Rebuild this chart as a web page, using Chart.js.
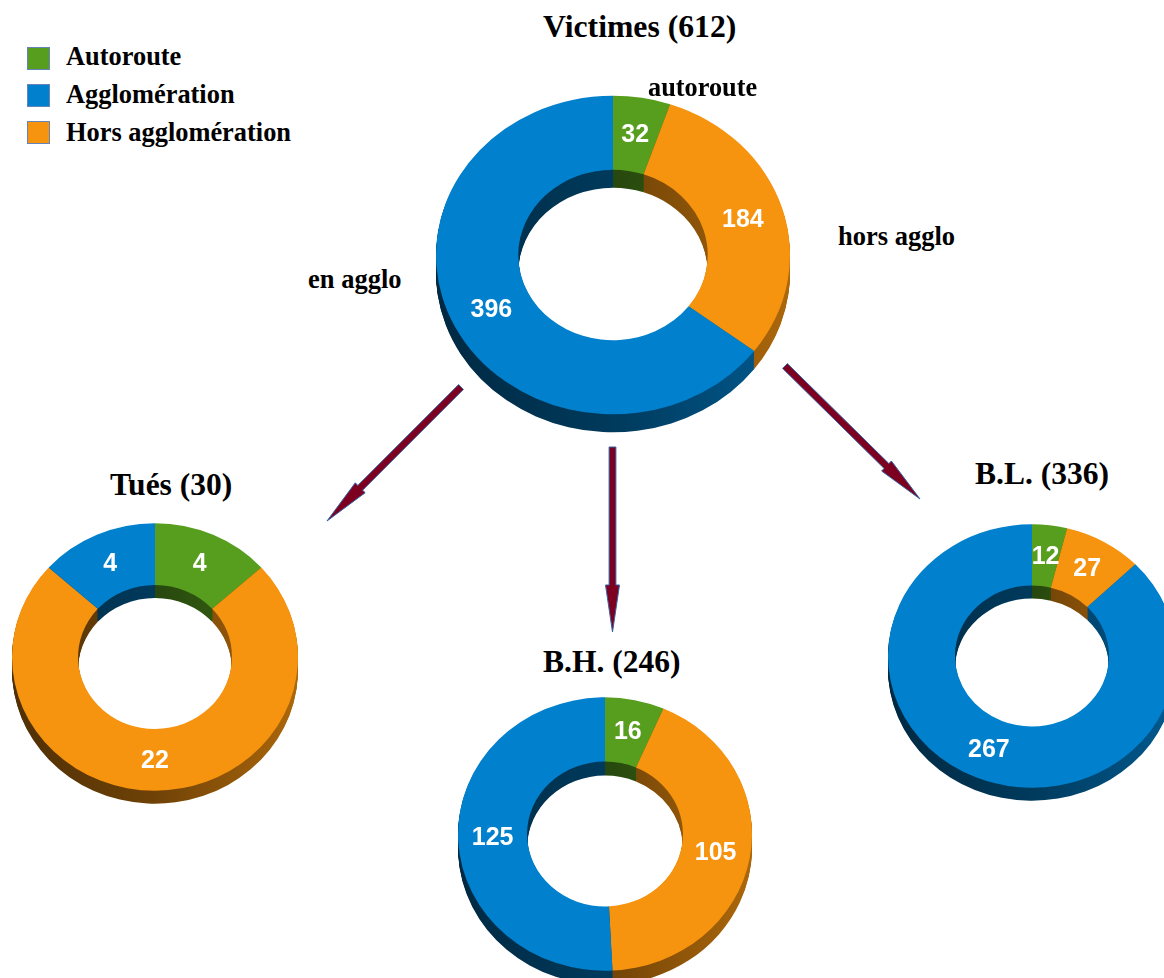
<!DOCTYPE html>
<html><head><meta charset="utf-8">
<script src="https://cdn.jsdelivr.net/npm/chart.js@4.4.1/dist/chart.umd.min.js"></script>
<style>
html,body{margin:0;padding:0;background:#fff;width:1164px;height:978px;overflow:hidden;}
#stage{position:relative;width:1164px;height:978px;overflow:hidden;background:#fff;}
canvas.pie{position:absolute;z-index:2;}
.t{position:absolute;white-space:nowrap;font-family:'Liberation Serif','Times New Roman',serif;font-weight:bold;color:#000;z-index:5;}
svg.arrows{position:absolute;left:0;top:0;z-index:1;}
.sw{position:absolute;width:23px;height:23px;box-sizing:border-box;border:1px solid #6584b8;z-index:5;}
</style></head>
<body><div id="stage"></div>
<script>
// ---- data ----
const categories = ['Autoroute', 'Hors agglomération', 'Agglomération'];
const legendLabels = ['Autoroute', 'Agglomération', 'Hors agglomération'];
const chartTitles = ['Victimes (612)', 'Tués (30)', 'B.H. (246)', 'B.L. (336)'];
const victimesValues = [32, 184, 396];
const tuesValues = [4, 22, 4];
const bhValues = [16, 105, 125];
const blValues = [12, 27, 267];
const sliceNotes = ['autoroute', 'hors agglo', 'en agglo'];

// ---- styles / layout ----
const colorOf = {'Autoroute': '#579e1e', 'Hors agglomération': '#f6930f', 'Agglomération': '#0181cd'};
const stage = document.getElementById('stage');

function shade(hex, f) {
  const n = parseInt(hex.slice(1), 16);
  const r = Math.round(((n >> 16) & 255) * f), g = Math.round(((n >> 8) & 255) * f), b = Math.round((n & 255) * f);
  return `rgb(${r},${g},${b})`;
}

function addText(txt, left, baseline, size) {
  const d = document.createElement('div');
  d.className = 't';
  d.textContent = txt;
  d.style.fontSize = size + 'px';
  d.style.lineHeight = size + 'px';
  d.style.left = left + 'px';
  d.style.top = (baseline - 0.8375 * size) + 'px';
  stage.appendChild(d);
  return d;
}

// legend
const legendTops = [47, 84, 121];
const legendBase = [65, 103, 141];
legendLabels.forEach((lab, i) => {
  const s = document.createElement('div');
  s.className = 'sw';
  s.style.left = '27px';
  s.style.top = legendTops[i] + 'px';
  s.style.background = colorOf[lab];
  stage.appendChild(s);
  addText(lab, 66, legendBase[i], 26.4);
});

// notes around main chart
addText(sliceNotes[0], 648, 97, 26.3);
addText(sliceNotes[1], 838, 245, 26.5);
addText(sliceNotes[2], 308, 288, 26.5);

// titles
addText(chartTitles[0], 543, 38, 31.7);
addText(chartTitles[1], 110, 495, 31.5);
addText(chartTitles[2], 543, 672, 31.5);
addText(chartTitles[3], 975, 484, 31.5);

// arrows (decoration)
const arrows = [
  {x0: 461, y0: 387, x1: 327, y1: 521},
  {x0: 612.5, y0: 447, x1: 612.5, y1: 632},
  {x0: 785, y0: 366, x1: 920, y1: 499}
];
const svgNS = 'http://www.w3.org/2000/svg';
const svg = document.createElementNS(svgNS, 'svg');
svg.setAttribute('class', 'arrows');
svg.setAttribute('width', 1164);
svg.setAttribute('height', 978);
arrows.forEach(a => {
  const dx = a.x1 - a.x0, dy = a.y1 - a.y0, L = Math.hypot(dx, dy);
  const ux = dx / L, uy = dy / L, px = -uy, py = ux;
  const sw = 3.4, hw = 7, hl = 47;
  const bx = a.x1 - ux * hl, by = a.y1 - uy * hl;
  const pts = [
    [a.x0 + px * sw, a.y0 + py * sw],
    [bx + px * sw, by + py * sw],
    [bx + px * hw, by + py * hw],
    [a.x1, a.y1],
    [bx - px * hw, by - py * hw],
    [bx - px * sw, by - py * sw],
    [a.x0 - px * sw, a.y0 - py * sw]
  ];
  const p = document.createElementNS(svgNS, 'polygon');
  p.setAttribute('points', pts.map(q => q[0].toFixed(1) + ',' + q[1].toFixed(1)).join(' '));
  p.setAttribute('fill', '#7e0021');
  p.setAttribute('stroke', '#3465a4');
  p.setAttribute('stroke-width', '1');
  svg.appendChild(p);
});
stage.appendChild(svg);

// 3D extrusion plugin
const depth3d = {
  id: 'depth3d',
  beforeDatasetsDraw(chart, args, opts) {
    const ctx = chart.ctx;
    const meta = chart.getDatasetMeta(0);
    const a0 = meta.data[0];
    const cx = a0.x, cy = a0.y, k = opts.ratio, R = a0.outerRadius;
    ctx.save();
    ctx.translate(cx, cy); ctx.scale(1, k); ctx.translate(-cx, -cy);
    const fills = meta.data.map((arc, i) => {
      const c = chart.data.datasets[0].backgroundColor[i];
      const g = ctx.createLinearGradient(cx - R, 0, cx + R, 0);
      g.addColorStop(0, shade(c, 0.32));
      g.addColorStop(0.5, shade(c, 0.45));
      g.addColorStop(1, shade(c, 0.7));
      return g;
    });
    for (let d = opts.depth; d >= 1; d--) {
      const oy = d / k;
      meta.data.forEach((arc, i) => {
        ctx.beginPath();
        ctx.arc(cx, cy + oy, arc.outerRadius, arc.startAngle, arc.endAngle);
        ctx.arc(cx, cy + oy, arc.innerRadius, arc.endAngle, arc.startAngle, true);
        ctx.closePath();
        ctx.fillStyle = fills[i];
        ctx.fill();
      });
    }
  },
  afterDatasetsDraw(chart, args, opts) {
    const ctx = chart.ctx;
    ctx.restore();
    const meta = chart.getDatasetMeta(0);
    const vals = chart.data.datasets[0].data;
    ctx.save();
    ctx.fillStyle = '#ffffff';
    ctx.font = 'bold 25px "Liberation Sans", Arial, sans-serif';
    ctx.textAlign = 'center';
    ctx.textBaseline = 'middle';
    meta.data.forEach((arc, i) => {
      const p = arc.tooltipPosition(true);
      const y = arc.y + (p.y - arc.y) * opts.ratio;
      ctx.fillText(String(vals[i]), p.x, y + 1);
    });
    ctx.restore();
  }
};

const pies = [
  {values: victimesValues, left: 436, top: 78, r: 177, ratio: 0.9, depth: 18, cutout: '53.5%'},
  {values: tuesValues, left: 12, top: 514, r: 143, ratio: 0.935, depth: 13, cutout: '53.8%'},
  {values: bhValues, left: 458, top: 687, r: 147, ratio: 0.93, depth: 14, cutout: '53%'},
  {values: blValues, left: 888, top: 512, r: 144, ratio: 0.915, depth: 13, cutout: '53.5%'}
];

pies.forEach(pc => {
  const cv = document.createElement('canvas');
  cv.className = 'pie';
  const extra = 40;
  cv.width = pc.r * 2;
  cv.height = pc.r * 2 + extra;
  cv.style.left = pc.left + 'px';
  cv.style.top = pc.top + 'px';
  cv.style.width = cv.width + 'px';
  cv.style.height = cv.height + 'px';
  stage.appendChild(cv);
  new Chart(cv.getContext('2d'), {
    type: 'doughnut',
    data: {
      labels: categories,
      datasets: [{
        data: pc.values,
        backgroundColor: categories.map(c => colorOf[c]),
        borderWidth: 0,
        hoverOffset: 0,
        offset: 0,
        clip: false
      }]
    },
    options: {
      responsive: false,
      animation: false,
      events: [],
      cutout: pc.cutout,
      devicePixelRatio: 1,
      layout: {padding: {top: 0, left: 0, right: 0, bottom: extra}},
      plugins: {
        legend: {display: false},
        tooltip: {enabled: false},
        depth3d: {ratio: pc.ratio, depth: pc.depth}
      }
    },
    plugins: [depth3d]
  });
});
</script>
</body></html>
